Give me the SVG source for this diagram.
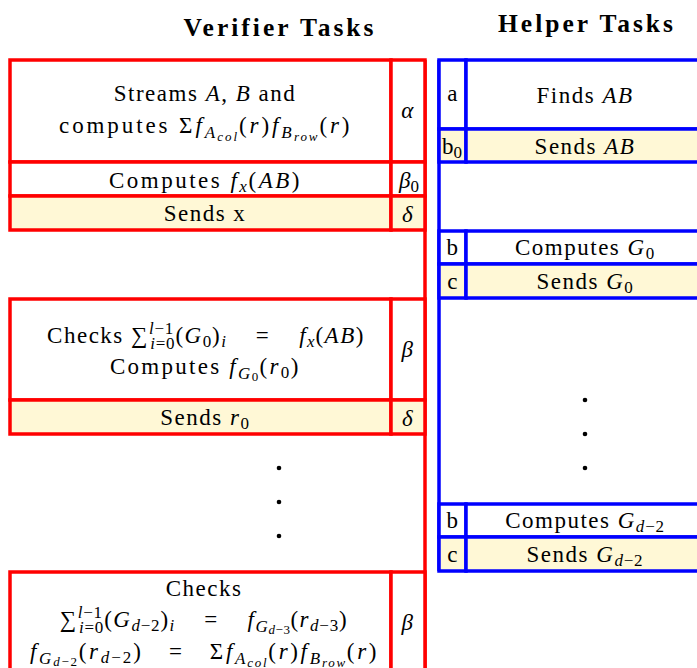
<svg xmlns="http://www.w3.org/2000/svg" width="697" height="668" viewBox="0 0 697 668">
<style>
text{font-size:23px;fill:#000;text-anchor:middle;letter-spacing:1.5px}
.title{font-weight:bold;font-size:25.5px;letter-spacing:3px}
.i{font-style:italic}
.s{font-size:17px;letter-spacing:0.8px}
.ss{font-size:13px;letter-spacing:0.5px}
.r{fill:#fff;stroke:#ff0000;stroke-width:3.5}
.b{fill:#fff;stroke:#0000ff;stroke-width:3.5}
.y{fill:#fff8d6}
.rl{stroke:#ff0000;stroke-width:3.5;fill:none}
.bl{stroke:#0000ff;stroke-width:3.5;fill:none}
</style>
<rect width="697" height="668" fill="#fff"/>
<g font-family="'Liberation Serif', serif">
<text class="title" x="280" y="36">Verifier Tasks</text>
<text class="title" x="587" y="32">Helper Tasks</text>

<g id="connectors">
<line class="rl" x1="425" y1="60" x2="425" y2="670"/>
<line class="bl" x1="439" y1="60" x2="439" y2="571"/>
</g>

<g id="v1">
<rect class="r" x="10" y="60" width="381" height="102"/>
<rect class="r" x="391" y="60" width="34" height="102"/>
<text x="205" y="101">Streams <tspan class="i">A</tspan>, <tspan class="i">B</tspan> and</text>
<text x="205" y="133" textLength="292" lengthAdjust="spacing">computes Σ<tspan class="i">f</tspan><tspan class="i s" dy="5">A</tspan><tspan class="i ss" dy="3">col</tspan><tspan dy="-8">(</tspan><tspan class="i">r</tspan>)<tspan class="i">f</tspan><tspan class="i s" dy="5">B</tspan><tspan class="i ss" dy="3">row</tspan><tspan dy="-8">(</tspan><tspan class="i">r</tspan>)</text>
<text class="i" x="408" y="118">α</text>
</g>
<g id="v2">
<rect class="r" x="10" y="162" width="381" height="34"/>
<rect class="r" x="391" y="162" width="34" height="34"/>
<text x="205" y="188" textLength="192" lengthAdjust="spacing">Computes <tspan class="i">f</tspan><tspan class="i s" dy="4">x</tspan><tspan dy="-4">(</tspan><tspan class="i">AB</tspan>)</text>
<text x="409" y="188" style="letter-spacing:0"><tspan class="i">β</tspan><tspan class="s" dy="4" style="letter-spacing:0">0</tspan></text>
</g>
<g id="v3">
<rect class="r y" x="10" y="196" width="381" height="34"/>
<rect class="r y" x="391" y="196" width="34" height="34"/>
<text x="205" y="221">Sends x</text>
<text class="i" x="408" y="222">δ</text>
</g>
<g id="v4">
<rect class="r" x="10" y="299" width="381" height="101"/>
<rect class="r" x="391" y="299" width="34" height="101"/>
<text x="206" y="343" xml:space="preserve">Checks ∑<tspan class="i s" dy="-9">l</tspan><tspan class="s">−1</tspan><tspan class="i s" dx="-24" dy="15">i</tspan><tspan class="s">=0</tspan><tspan dy="-6">(</tspan><tspan class="i">G</tspan><tspan class="s" dy="4">0</tspan><tspan dy="-4">)</tspan><tspan class="i s" dy="4">i</tspan><tspan dy="-4">    =    </tspan><tspan class="i">f</tspan><tspan class="i s" dy="4">x</tspan><tspan dy="-4">(</tspan><tspan class="i">AB</tspan>)</text>
<text x="205" y="374" textLength="190" lengthAdjust="spacing">Computes <tspan class="i">f</tspan><tspan class="i s" dy="5">G</tspan><tspan class="ss" dy="2">0</tspan><tspan dy="-7">(</tspan><tspan class="i">r</tspan><tspan class="s" dy="4">0</tspan><tspan dy="-4">)</tspan></text>
<text class="i" x="408" y="357">β</text>
</g>
<g id="v5">
<rect class="r y" x="10" y="400" width="381" height="34"/>
<rect class="r y" x="391" y="400" width="34" height="34"/>
<text x="205" y="425">Sends <tspan class="i">r</tspan><tspan class="s" dy="4">0</tspan></text>
<text class="i" x="408" y="426">δ</text>
</g>
<g id="v6">
<rect class="r" x="10" y="572" width="381" height="110"/>
<rect class="r" x="391" y="572" width="34" height="110"/>
<text x="204" y="596">Checks</text>
<text x="204" y="627" xml:space="preserve">∑<tspan class="i s" dy="-9">l</tspan><tspan class="s">−1</tspan><tspan class="i s" dx="-24" dy="15">i</tspan><tspan class="s">=0</tspan><tspan dy="-6">(</tspan><tspan class="i">G</tspan><tspan class="i s" dy="4">d</tspan><tspan class="s">−2</tspan><tspan dy="-4">)</tspan><tspan class="i s" dy="4">i</tspan><tspan dy="-4">    =    </tspan><tspan class="i">f</tspan><tspan class="i s" dy="5">G</tspan><tspan class="i ss" dy="2">d</tspan><tspan class="ss">−3</tspan><tspan dy="-7">(</tspan><tspan class="i">r</tspan><tspan class="i s" dy="4">d</tspan><tspan class="s">−3</tspan><tspan dy="-4">)</tspan></text>
<text x="204" y="659" textLength="348" lengthAdjust="spacing"><tspan class="i">f</tspan><tspan class="i s" dy="5">G</tspan><tspan class="i ss" dy="2">d</tspan><tspan class="ss">−2</tspan><tspan dy="-7">(</tspan><tspan class="i">r</tspan><tspan class="i s" dy="4">d</tspan><tspan class="s">−2</tspan><tspan dy="-4" xml:space="preserve">)   =   Σ</tspan><tspan class="i">f</tspan><tspan class="i s" dy="5">A</tspan><tspan class="i ss" dy="3">col</tspan><tspan dy="-8">(</tspan><tspan class="i">r</tspan>)<tspan class="i">f</tspan><tspan class="i s" dy="5">B</tspan><tspan class="i ss" dy="3">row</tspan><tspan dy="-8">(</tspan><tspan class="i">r</tspan>)</text>
<text class="i" x="408" y="630">β</text>
</g>
<g id="vdots">
<circle cx="279" cy="468" r="2.3"/>
<circle cx="279" cy="502" r="2.3"/>
<circle cx="279" cy="536" r="2.3"/>
</g>

<g id="h1">
<rect class="b" x="439" y="60" width="27" height="69"/>
<rect class="b" x="466" y="60" width="245" height="69"/>
<text x="453" y="101">a</text>
<text x="585" y="103">Finds <tspan class="i">AB</tspan></text>
</g>
<g id="h2">
<rect class="b y" x="439" y="129" width="27" height="33"/>
<rect class="b y" x="466" y="129" width="245" height="33"/>
<text x="452" y="154" style="letter-spacing:0">b<tspan class="s" dy="4" style="letter-spacing:0">0</tspan></text>
<text x="585" y="154">Sends <tspan class="i">AB</tspan></text>
</g>
<g id="h3">
<rect class="b" x="439" y="231" width="27" height="33"/>
<rect class="b" x="466" y="231" width="245" height="33"/>
<text x="453" y="255">b</text>
<text x="585" y="255">Computes <tspan class="i">G</tspan><tspan class="s" dy="4">0</tspan></text>
</g>
<g id="h4">
<rect class="b y" x="439" y="264" width="27" height="34"/>
<rect class="b y" x="466" y="264" width="245" height="34"/>
<text x="453" y="289">c</text>
<text x="585" y="289">Sends <tspan class="i">G</tspan><tspan class="s" dy="4">0</tspan></text>
</g>
<g id="hdots">
<circle cx="585" cy="400" r="2.3"/>
<circle cx="585" cy="434" r="2.3"/>
<circle cx="585" cy="468" r="2.3"/>
</g>
<g id="h5">
<rect class="b" x="439" y="504" width="27" height="33"/>
<rect class="b" x="466" y="504" width="245" height="33"/>
<text x="453" y="528">b</text>
<text x="585" y="528">Computes <tspan class="i">G</tspan><tspan class="i s" dy="4">d</tspan><tspan class="s">−2</tspan></text>
</g>
<g id="h6">
<rect class="b y" x="439" y="537" width="27" height="34"/>
<rect class="b y" x="466" y="537" width="245" height="34"/>
<text x="453" y="562">c</text>
<text x="585" y="562">Sends <tspan class="i">G</tspan><tspan class="i s" dy="4">d</tspan><tspan class="s">−2</tspan></text>
</g>
</g>
</svg>
